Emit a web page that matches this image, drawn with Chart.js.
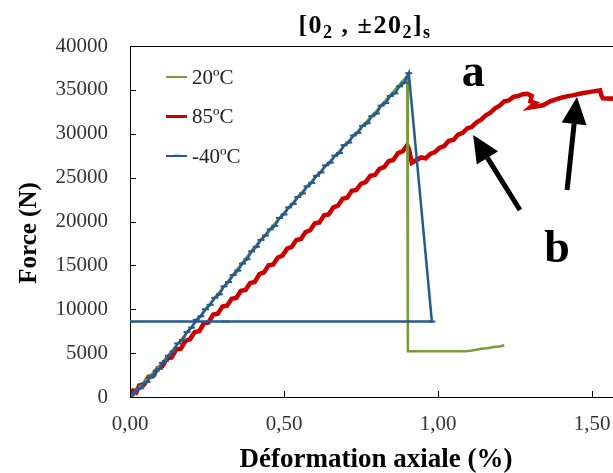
<!DOCTYPE html>
<html>
<head>
<meta charset="utf-8">
<script src="https://cdn.jsdelivr.net/npm/chart.js@4/dist/chart.umd.min.js"></script>
<style>
  html, body { margin: 0; padding: 0; background: #fff; }
  canvas { display: block; }
</style>
</head>
<body>
<canvas id="c" width="613" height="473"></canvas>
<script>
// ---------------- DATA ----------------
const seriesLabels = ["20ºC", "85ºC", "-40ºC"];

// 20 ºC
const strain_20C = [0, 0.1, 0.2, 0.3, 0.4, 0.5, 0.6, 0.7, 0.8, 0.9, 0.902, 0.902, 1.0, 1.09, 1.12, 1.14, 1.16, 1.18, 1.20, 1.215];
const force_20C  = [0, 3700, 8000, 12400, 16900, 21000, 25000, 28800, 32600, 36600, 36700, 5200, 5200, 5200, 5350, 5500, 5550, 5700, 5750, 5900];

// 85 ºC
const strain_85C = [0, 0.01, 0.02, 0.03, 0.045, 0.06, 0.075, 0.09, 0.105, 0.12, 0.135, 0.15, 0.165, 0.18, 0.195, 0.21, 0.225, 0.24, 0.255, 0.27, 0.285,
  0.30, 0.315, 0.33, 0.345, 0.36, 0.375, 0.39, 0.405, 0.42, 0.435, 0.45, 0.465, 0.48, 0.495, 0.51, 0.525, 0.54, 0.555, 0.57, 0.585,
  0.60, 0.615, 0.63, 0.645, 0.66, 0.675, 0.69, 0.705, 0.72, 0.735, 0.75, 0.765, 0.78, 0.795, 0.81, 0.825, 0.84, 0.855, 0.87, 0.885,
  0.90, 0.905, 0.91, 0.915, 0.93, 0.945, 0.96, 0.975, 0.99, 1.005, 1.02, 1.035, 1.05, 1.065, 1.08, 1.095, 1.11, 1.125, 1.14, 1.155,
  1.17, 1.185, 1.20, 1.215, 1.23, 1.245, 1.26, 1.275, 1.29, 1.304, 1.300, 1.316, 1.299, 1.341, 1.364, 1.38, 1.40, 1.418, 1.44, 1.471,
  1.50, 1.526, 1.530, 1.535, 1.57];
const force_85C  = [0, 700, 500, 1300, 1400, 2300, 2400, 3300, 3500, 4400, 4500, 5400, 5500, 6400, 6600, 7400, 7500, 8400, 8500, 9400, 9500,
  10300, 10400, 11200, 11300, 12100, 12200, 13000, 13100, 14000, 14200, 15000, 15100, 15900, 16100, 16900, 17100, 17900, 18000, 18800, 19000,
  19800, 19900, 20700, 20800, 21600, 21800, 22600, 22700, 23500, 23600, 24300, 24500, 25200, 25300, 26000, 26200, 26900, 27000, 27800, 28000,
  28700, 28300, 27500, 26700, 27000, 27300, 27200, 27700, 27900, 28400, 28600, 29200, 29300, 29900, 30100, 30600, 30800, 31300, 31600, 32100,
  32400, 32900, 33200, 33700, 33800, 34200, 34300, 34500, 34550, 34300, 33700, 33500, 33000, 33250, 33700, 33900, 34100, 34260, 34400, 34640,
  34800, 34950, 34400, 34050, 34000];

// -40 ºC
const strain_m40C = [0, 0.005, 0.015, 0.025, 0.035, 0.045, 0.055, 0.065, 0.075, 0.085, 0.095, 0.105, 0.115, 0.125, 0.14, 0.155, 0.17, 0.185,
  0.20, 0.215, 0.23, 0.245, 0.26, 0.275, 0.29, 0.305, 0.32, 0.335, 0.35, 0.365, 0.38, 0.395, 0.41, 0.425, 0.44, 0.455, 0.47, 0.485,
  0.50, 0.515, 0.53, 0.545, 0.56, 0.575, 0.59, 0.605, 0.62, 0.635, 0.65, 0.665, 0.68, 0.695, 0.71, 0.725, 0.74, 0.755, 0.77, 0.785,
  0.80, 0.815, 0.83, 0.845, 0.86, 0.875, 0.89, 0.905, 0.98, 0.31, 0.0];
const force_m40C  = [0, 250, 450, 900, 1000, 1550, 1700, 2200, 2450, 3000, 3200, 3900, 4100, 4700, 5200, 6100, 6500, 7400,
  7900, 8800, 9200, 10000, 10500, 11300, 11700, 12600, 13100, 13900, 14400, 15200, 15700, 16600, 17100, 17900, 18400, 19100, 19500, 20400,
  20800, 21600, 22000, 22800, 23200, 24000, 24400, 25200, 25600, 26400, 26700, 27500, 27800, 28700, 29000, 29800, 30100, 30900, 31200, 32000,
  32300, 33200, 33500, 34300, 34600, 35400, 35800, 36900, 8600, 8600, 8600];

// Axis ticks
const xTickValues = [0, 0.5, 1.0, 1.5];
const yTickValues = [0, 5000, 10000, 15000, 20000, 25000, 30000, 35000, 40000];

// Texts
const titleParts = [["[0", false], ["2", true], [" , ±20", false], ["2", true], ["]", false], ["s", true]];
const xTitle = "Déformation axiale (%)";
const yTitle = "Force (N)";

// Annotation labels/arrows (data coordinates: strain %, force N)
const annotLabels = [["a", 1.114, 35440], ["b", 1.386, 15385]];
const annotArrows = [[1.266, 21310, 1.114, 29860], [1.419, 23590, 1.451, 34190]];

// ---------------- CHART ----------------
const FONT = "'Liberation Serif', 'Times New Roman', serif";
const colors = { g: "#7a9a3a", r: "#cc0000", b: "#265a8c" };

function pts(xs, ys) { return xs.map((x, i) => ({ x: x, y: ys[i] })); }

const decorPlugin = {
  id: "decor",
  afterDraw(chart) {
    const ctx = chart.ctx, a = chart.chartArea, xs = chart.scales.x, ys = chart.scales.y;
    ctx.save();
    // top border
    ctx.strokeStyle = "#000"; ctx.lineWidth = 1;
    ctx.beginPath(); ctx.moveTo(a.left, a.top + 0.5); ctx.lineTo(a.right, a.top + 0.5); ctx.stroke();
    // inside tick marks
    ctx.beginPath();
    yTickValues.forEach(v => { const y = Math.round(ys.getPixelForValue(v)) + 0.5; ctx.moveTo(a.left, y); ctx.lineTo(a.left + 6, y); });
    xTickValues.forEach(v => { const x = Math.round(xs.getPixelForValue(v)) + 0.5; ctx.moveTo(x, a.bottom); ctx.lineTo(x, a.bottom - 6); });
    ctx.stroke();

    // title with subscripts
    const mainF = "bold 26px " + FONT, subF = "bold 18px " + FONT;
    ctx.letterSpacing = "1.5px";
    let total = 0;
    titleParts.forEach(p => { ctx.font = p[1] ? subF : mainF; total += ctx.measureText(p[0]).width; });
    let x = 365 - total / 2;
    ctx.fillStyle = "#000"; ctx.textBaseline = "alphabetic"; ctx.textAlign = "left";
    titleParts.forEach(p => {
      ctx.font = p[1] ? subF : mainF;
      ctx.fillText(p[0], x, p[1] ? 38 : 33);
      x += ctx.measureText(p[0]).width;
    });
    ctx.letterSpacing = "0px";

    // axis titles
    ctx.font = "bold 27px " + FONT; ctx.textAlign = "center";
    ctx.fillText(xTitle, 376, 467);
    ctx.font = "bold 25px " + FONT;
    ctx.save();
    ctx.translate(36, 233); ctx.rotate(-Math.PI / 2);
    ctx.fillText(yTitle, 0, 0);
    ctx.restore();

    // legend
    const legendOrder = [0, 1, 2];
    ctx.font = "21px " + FONT; ctx.textAlign = "left"; ctx.textBaseline = "middle";
    legendOrder.forEach((di, i) => {
      const ds = chart.data.datasets[di];
      const y = a.top + 31 + i * 39.5;
      ctx.strokeStyle = ds.borderColor; ctx.lineWidth = di === 1 ? 3 : 2;
      ctx.beginPath(); ctx.moveTo(a.left + 36, y); ctx.lineTo(a.left + 57, y); ctx.stroke();
      if (di === 2) { ctx.lineWidth = 1.5; ctx.beginPath(); ctx.moveTo(a.left + 44, y - 0.5); ctx.lineTo(a.left + 50, y - 0.5); ctx.stroke(); }
      ctx.fillStyle = "#222";
      ctx.fillText(ds.label, a.left + 62, y + 1);
    });

    // annotation letters
    ctx.fillStyle = "#000"; ctx.textAlign = "center"; ctx.textBaseline = "alphabetic";
    ctx.font = "bold 46px " + FONT;
    annotLabels.forEach(l => ctx.fillText(l[0], xs.getPixelForValue(l[1]), ys.getPixelForValue(l[2])));

    // arrows
    annotArrows.forEach(ar => {
      const x0 = xs.getPixelForValue(ar[0]), y0 = ys.getPixelForValue(ar[1]);
      const x1 = xs.getPixelForValue(ar[2]), y1 = ys.getPixelForValue(ar[3]);
      const ang = Math.atan2(y1 - y0, x1 - x0);
      const hl = 27, hw = 12.5;
      const bx = x1 - hl * Math.cos(ang), by = y1 - hl * Math.sin(ang);
      ctx.strokeStyle = "#000"; ctx.lineWidth = 5; ctx.lineCap = "butt";
      ctx.beginPath(); ctx.moveTo(x0, y0); ctx.lineTo(bx, by); ctx.stroke();
      ctx.fillStyle = "#000";
      ctx.beginPath();
      ctx.moveTo(x1, y1);
      ctx.lineTo(bx + hw * Math.sin(ang), by - hw * Math.cos(ang));
      ctx.lineTo(bx - hw * Math.sin(ang), by + hw * Math.cos(ang));
      ctx.closePath(); ctx.fill();
    });
    ctx.restore();
  }
};

new Chart(document.getElementById("c"), {
  type: "scatter",
  data: {
    datasets: [
      { label: seriesLabels[0], data: pts(strain_20C, force_20C), showLine: true, borderColor: colors.g, backgroundColor: colors.g,
        borderWidth: 2.5, pointRadius: 0, order: 2, tension: 0 },
      { label: seriesLabels[1], data: pts(strain_85C, force_85C), showLine: true, borderColor: colors.r, backgroundColor: colors.r,
        borderWidth: 4.5, pointRadius: 0, order: 3, tension: 0 },
      { label: seriesLabels[2], data: pts(strain_m40C, force_m40C), showLine: true, borderColor: colors.b, backgroundColor: colors.b,
        borderWidth: 2.5, pointStyle: "line", pointRadius: 3.5, pointBorderWidth: 2, pointBorderColor: colors.b, order: 1, tension: 0 }
    ]
  },
  options: {
    responsive: false,
    animation: false,
    layout: { autoPadding: false, padding: { top: 46, left: 0, right: 0, bottom: 0 } },
    plugins: { legend: { display: false }, title: { display: false }, tooltip: { enabled: false } },
    scales: {
      x: {
        type: "linear", min: 0, max: 1.568,
        afterFit: s => { s.height = 76; s.paddingRight = 0; s.paddingLeft = 0; },
        afterBuildTicks: s => { s.ticks = xTickValues.map(v => ({ value: v })); },
        border: { display: true, color: "#000", width: 1 },
        grid: { display: false, drawTicks: false },
        ticks: { padding: 15, color: "#333", font: { family: FONT, size: 21 },
          callback: v => v.toFixed(2).replace(".", ","), maxRotation: 0, autoSkip: false }
      },
      y: {
        type: "linear", min: 0, max: 40000,
        afterFit: s => { s.width = 130; s.paddingTop = 0; s.paddingBottom = 0; },
        afterBuildTicks: s => { s.ticks = yTickValues.map(v => ({ value: v })); },
        border: { display: true, color: "#000", width: 1 },
        grid: { display: false, drawTicks: false },
        ticks: { padding: 22, color: "#333", font: { family: FONT, size: 21 },
          callback: v => String(v), autoSkip: false }
      }
    }
  },
  plugins: [decorPlugin]
});
</script>
</body>
</html>
